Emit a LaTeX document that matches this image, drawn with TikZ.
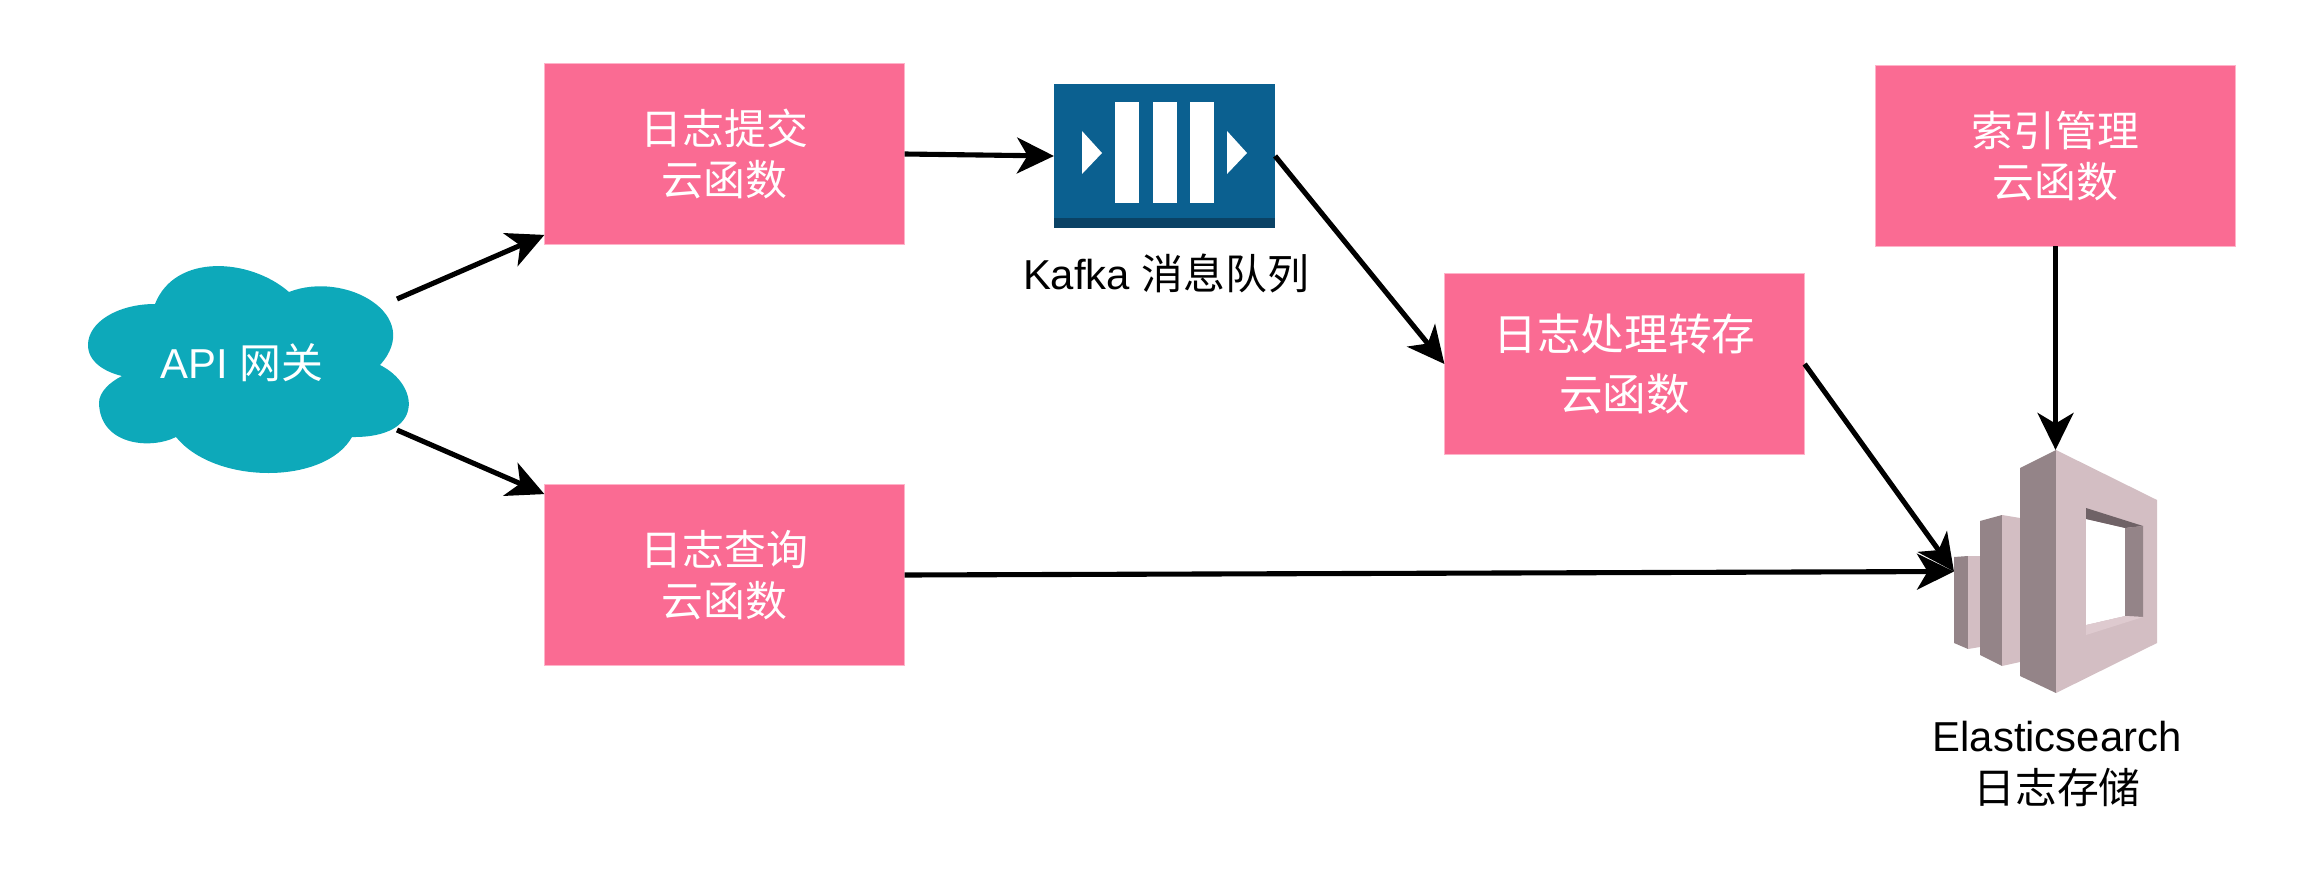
\documentclass[tikz,border=0pt]{standalone}
\usepackage{fontspec}
\setmainfont{Liberation Sans}
\newfontfamily\cjk{Noto Sans CJK SC}
\usetikzlibrary{arrows.meta}

\definecolor{boxpink}{HTML}{FA6B93}
\definecolor{boxedge}{HTML}{FFB3C9}
\definecolor{cloudteal}{HTML}{0DA9BA}
\definecolor{queueblue}{HTML}{0B6090}
\definecolor{queuedark}{HTML}{0A4265}
\definecolor{esdark}{HTML}{948488}
\definecolor{eslight}{HTML}{D3BEC3}
\definecolor{esshade}{HTML}{6F6266}
\definecolor{esbright}{HTML}{DECACF}

\tikzset{
  labeltext/.style={font=\fontsize{11.9}{14.6}\selectfont, align=center, inner sep=0pt},
  funcbox/.style={labeltext, fill=boxpink, draw=boxedge, line width=0.3pt, text=white, minimum width=3.6cm, minimum height=1.8cm, outer sep=0pt},
  flowarrow/.style={line width=1.45pt, -{Stealth[length=10.5pt, width=10.2pt, inset=3pt]}}
}

\begin{document}
\begin{tikzpicture}[x=0.01cm, y=-0.01cm]
      \useasboundingbox (0,0) rectangle (2298,876);

      \fill[cloudteal] (155,304) .. controls (175,253) and (250,258) .. (289,292)
        .. controls (345,270) and (425,315) .. (380,365)
        .. controls (420,385) and (425,438) .. (352,437)
        .. controls (325,485) and (215,485) .. (176,437)
        .. controls (150,450) and (100,445) .. (99,403)
        .. controls (99,392) and (110,382) .. (122,376)
        .. controls (105,372) and (88,362) .. (88,345)
        .. controls (88,322) and (118,304) .. (155,304) -- cycle;
      \node[labeltext, text=white] (gateway) at (242,363) {API {\cjk 网关}};
      \coordinate (gatewayup) at (397,299);
      \coordinate (gatewaydown) at (397,430);

      \foreach \name/\x/\y/\boxtext in {logsubmit/724.5/154/日志提交, logquery/724.5/575/日志查询,
        indexadmin/2055.5/156/索引管理}
      \node[funcbox, font=\fontsize{11.9}{14.6}\selectfont\cjk] (\name) at (\x,\y) {\boxtext\\云函数};
      \node[funcbox, font=\fontsize{12.4}{16.8}\selectfont\cjk] (logstore) at (1624.5,364) {日志处理转存\\云函数};

      \node[fill=queueblue, minimum width=2.21cm, minimum height=1.44cm, inner sep=0pt, outer sep=0pt] (queue) at (1164.5,156) {};
      \fill[queuedark] (1054,218) rectangle (1275,228);
      \foreach \x in {1115, 1153, 1190}
      \fill[white] (\x,102) rectangle ++(23.5,101);
      \foreach \x in {1082, 1227}
      \fill[white] (\x,131) -- (\x+20,153) -- (\x,174) -- cycle;
      \node[labeltext] (queuelabel) at (1166,273) {Kafka {\cjk 消息队列}};

      \node[minimum width=2.03cm, minimum height=2.43cm, inner sep=0pt, outer sep=0pt] (esicon) at (2055.5,571.5) {};
      \fill[esdark] (1954,557) -- (1968,556) -- (1968,649) -- (1954,643) -- cycle;
      \fill[eslight] (1968,556) -- (1980,556) -- (1980,647) -- (1968,649) -- cycle;
      \fill[esdark] (1980,521) -- (2002,515) -- (2002,666) -- (1980,655) -- cycle;
      \fill[eslight] (2002,515) -- (2020,518) -- (2020,662) -- (2002,666) -- cycle;
      \fill[esdark] (2020,468) -- (2056,450) -- (2056,693) -- (2020,676) -- cycle;
      \fill[eslight] (2056,450) -- (2157,500) -- (2157,643) -- (2056,693) -- cycle;
      \fill[white] (2086,519) -- (2125,528) -- (2125,616) -- (2086,625) -- cycle;
      \fill[esshade] (2086,508) -- (2143,526) -- (2125,528) -- (2086,519) -- cycle;
      \fill[esdark] (2125,528) -- (2143,526) -- (2143,617) -- (2125,616) -- cycle;
      \fill[esbright] (2086,625) -- (2125,616) -- (2143,617) -- (2086,635) -- cycle;
      \node[labeltext] (eslabel) at (2057,764) {Elasticsearch\\{\cjk 日志存储}};

      \draw[flowarrow] (gatewayup) -- ([yshift=2.6pt]logsubmit.south west);
      \draw[flowarrow] (gatewaydown) -- ([yshift=-2.6pt]logquery.north west);
      \draw[flowarrow] (logsubmit.east) -- (queue.west);
      \draw[flowarrow] (queue.east) -- (logstore.west);
      \draw[flowarrow] (logstore.east) -- (esicon.west);
      \draw[flowarrow] (logquery.east) -- (esicon.west);
      \draw[flowarrow] (indexadmin.south) -- (esicon.north);
    \end{tikzpicture}
\end{document}
